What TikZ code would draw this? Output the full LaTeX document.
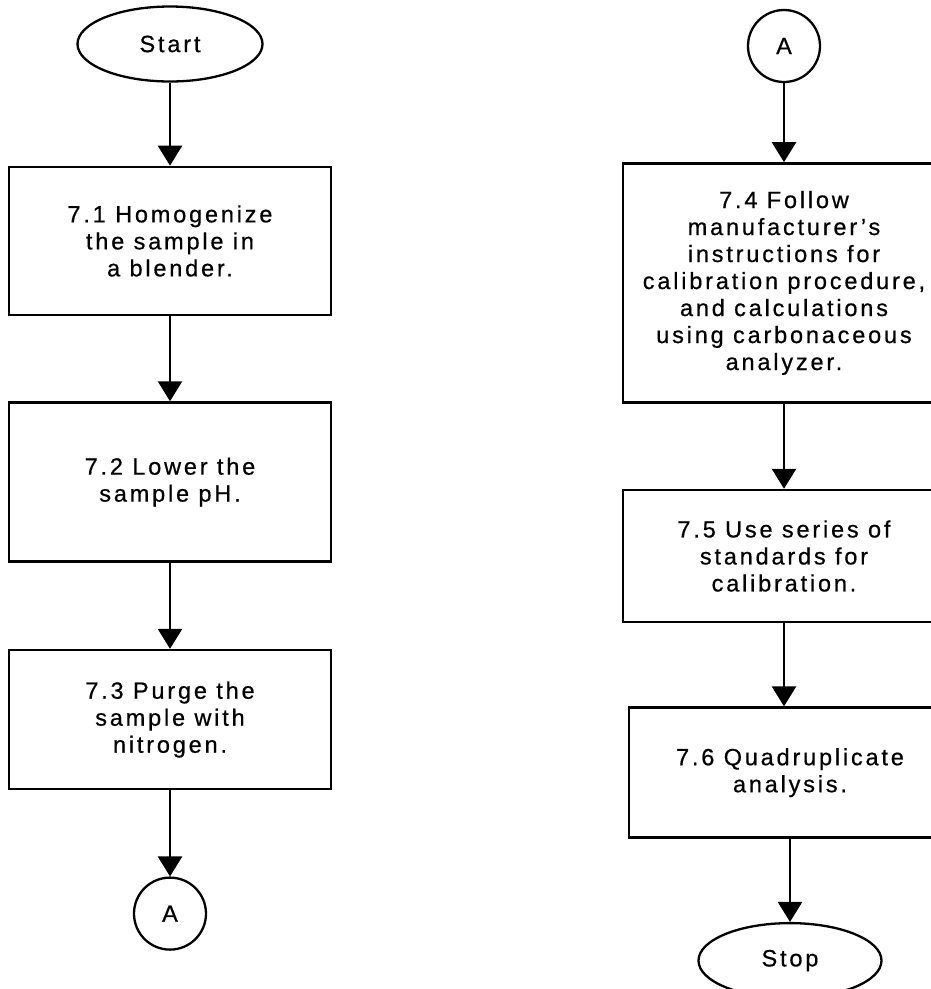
\documentclass[tikz,border=0pt]{standalone}
\usepackage{fontspec}
\setmainfont[LetterSpace=12, FakeBold=0.6]{Liberation Sans}
\usetikzlibrary{positioning, shapes.geometric, arrows.meta}

\begin{document}
\begin{tikzpicture}[x=1pt, y=1pt, node distance=84pt,
  proc box/.style={rectangle, draw, line width=2.6pt, minimum width=322pt,
    align=center, font=\fontsize{23.5}{27}\selectfont},
  term node/.style={ellipse, draw, line width=2.3pt, minimum width=185pt,
    minimum height=75pt, inner sep=0pt, font=\fontsize{23.5}{27}\selectfont},
  conn node/.style={circle, draw, line width=2.3pt, minimum size=72pt,
    inner sep=0pt, font=\fontsize{23.5}{27}\selectfont},
  flow/.style={line width=2.6pt, -{Triangle[width=24pt,length=20pt]}}]

\useasboundingbox (0,0) rectangle (931,-989);

% left column
\node[term node] (start) at (170,-44) {Start};
\node[proc box, minimum height=148pt] (s71) [below=83pt of start] {7.1 Homogenize\\the sample in\\a blender.};
\node[proc box, minimum height=159pt] (s72) [below=85pt of s71] {7.2 Lower the\\sample pH.};
\node[proc box, minimum height=139pt] (s73) [below=86pt of s72] {7.3 Purge the\\sample with\\nitrogen.};
\node[conn node] (outA) [below=86pt of s73] {A};

% right column
\node[conn node] (inA) at (784,-46) {A};
\node[proc box, minimum height=239pt] (s74) [below=79pt of inA] {7.4 Follow\\manufacturer's\\instructions for\\calibration procedure,\\and calculations\\using carbonaceous\\analyzer.};
\node[proc box, minimum height=132pt] (s75) [below=85pt of s74] {7.5 Use series of\\standards for\\calibration.};
\node[proc box, minimum height=130pt] (s76) [below=83pt of s75, xshift=6pt] {7.6 Quadruplicate\\analysis.};
\node[term node, minimum width=183pt] (stop) [below=83pt of s76] {Stop};

\draw[flow] (start) -- (s71);
\draw[flow] (s71) -- (s72);
\draw[flow] (s72) -- (s73);
\draw[flow] (s73) -- (outA);
\draw[flow] (inA) -- (s74);
\draw[flow] (s74) -- (s75);
\draw[flow] (s75) -- (s75 |- s76.north);
\draw[flow] (s76) -- (stop);
\end{tikzpicture}
\end{document}
